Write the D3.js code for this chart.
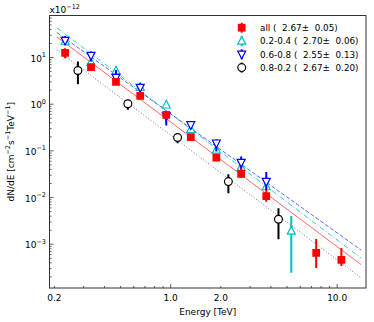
<!DOCTYPE html>
<html>
<head>
<meta charset="utf-8">
<script src="https://cdn.jsdelivr.net/npm/d3@7"></script>
<style>
  body { margin: 0; background: #fff; }
  text { font-family: "DejaVu Sans", sans-serif; fill: #000; }
</style>
</head>
<body>
<div id="chart"></div>
<script>
// data in units of 1e-12 cm^-2 s^-1 TeV^-1
var energyAll = [0.232, 0.332, 0.469, 0.656, 0.94, 1.32, 1.88, 2.65, 3.75, 7.48, 10.6];
var fluxAll = [12.6, 6.2, 3.0, 1.51, 0.59, 0.197, 0.0718, 0.0321, 0.0108, 6.5e-4, 4.6e-4];
var loAll = [9.7, 5.3, 2.6, 1.3, 0.5, 0.17, 0.06, 0.0261, 0.0081, 3.1e-4, 3.4e-4];
var hiAll = [15.9, 7.2, 3.5, 1.75, 0.69, 0.23, 0.085, 0.0422, 0.0145, 1.3e-3, 8.3e-4];

var energyCyan = [0.232, 0.332, 0.469, 0.656, 0.94, 1.32, 1.88, 2.65, 3.75, 5.3];
var fluxCyan = [22, 7.96, 5.19, 2.3, 0.97, 0.29, 0.105, 0.0448, 0.0172, 0.00193];
var loCyan = [19, 7.0, 4.5, 2.0, 0.84, 0.25, 0.09, 0.038, 0.0145, 2.45e-4];
var hiCyan = [25, 9.0, 6.0, 2.6, 1.1, 0.33, 0.12, 0.052, 0.02, 0.00405];

var energyBlue = [0.232, 0.332, 0.469, 0.656, 0.94, 1.32, 1.88, 2.65, 3.75];
var fluxBlue = [23.1, 11.0, 3.72, 2.27, 0.56, 0.36, 0.146, 0.056, 0.022];
var loBlue = [18.6, 8.2, 2.87, 1.87, 0.348, 0.29, 0.0966, 0.036, 0.0146];
var hiBlue = [29, 13.4, 5.4, 2.82, 0.686, 0.42, 0.178, 0.0755, 0.0355];

var energyBlack = [0.277, 0.553, 1.10, 2.22, 4.44];
var fluxBlack = [5.26, 1.02, 0.193, 0.022, 0.00344];
var loBlack = [2.69, 0.757, 0.146, 0.0124, 0.00128];
var hiBlack = [8.2, 1.24, 0.24, 0.0316, 0.0059];

// power-law fits: norm at 1 TeV, index
var fitNorms = [0.414, 0.618, 0.62, 0.216];
var fitIndex = [2.67, 2.70, 2.55, 2.67];
var fitRange = [0.207, 13.9];

var legendLabels = ["all (  2.67\u00b1  0.05)", "0.2-0.4 (  2.70\u00b1  0.06)",
  "0.6-0.8 (  2.55\u00b1  0.13)", "0.8-0.2 (  2.67\u00b1  0.20)"];
var xTickLabels = [0.2, 1.0, 2.0, 10.0];

var width = 374, height = 322;
var plotLeft = 49.5, plotRight = 366, plotTop = 15.5, plotBottom = 288;

var svg = d3.select("#chart").append("svg")
  .attr("width", width).attr("height", height);

var x = d3.scaleLog().domain([0.187, 14.9]).range([plotLeft, plotRight]);
var y = d3.scaleLog().domain([1.155e-4, 79.5]).range([plotBottom, plotTop]);

var series = [
  { e: energyAll, f: fluxAll, lo: loAll, hi: hiAll, color: "#ff0000", marker: "square", fill: "#ff0000" },
  { e: energyCyan, f: fluxCyan, lo: loCyan, hi: hiCyan, color: "#00bfbf", marker: "up", fill: "#fff" },
  { e: energyBlue, f: fluxBlue, lo: loBlue, hi: hiBlue, color: "#0000ff", marker: "down", fill: "#fff" },
  { e: energyBlack, f: fluxBlack, lo: loBlack, hi: hiBlack, color: "#000", marker: "circle", fill: "#fff" }
];
var fitColors = ["#ff4040", "#00bfbf", "#3a3aff", "#555"];
var fitDash = [null, "5,2,1,2", "4,2", "1,2"];

svg.append("defs").append("clipPath").attr("id", "clip")
  .append("rect").attr("x", plotLeft).attr("y", plotTop)
  .attr("width", plotRight - plotLeft).attr("height", plotBottom - plotTop);

var plot = svg.append("g").attr("clip-path", "url(#clip)");

// fit lines
var line = d3.line().x(function (d) { return x(d[0]); }).y(function (d) { return y(d[1]); });
for (var i = 0; i < fitNorms.length; i++) {
  var pts = fitRange.map(function (e) { return [e, fitNorms[i] * Math.pow(e, -fitIndex[i])]; });
  plot.append("path")
    .attr("d", line(pts))
    .attr("fill", "none")
    .attr("stroke", fitColors[i])
    .attr("stroke-width", 1)
    .attr("stroke-opacity", 0.8)
    .attr("stroke-dasharray", fitDash[i]);
}

function markerPath(type) {
  if (type === "square") return d3.symbol().type(d3.symbolSquare).size(60)();
  if (type === "circle") return d3.symbol().type(d3.symbolCircle).size(48)();
  if (type === "up") return "M0,-4.5L4,3.2L-4,3.2Z";
  return "M0,4.5L4,-3.2L-4,-3.2Z";
}

// error bars and markers, drawn in reverse so "all" is on top
[3, 1, 2, 0].forEach(function (k) {
  var s = series[k];
  var g = plot.append("g");
  g.selectAll("line.err").data(s.e).enter().append("line")
    .attr("x1", function (d) { return x(d); })
    .attr("x2", function (d) { return x(d); })
    .attr("y1", function (d, j) { return y(s.lo[j]); })
    .attr("y2", function (d, j) { return y(s.hi[j]); })
    .attr("stroke", s.color)
    .attr("stroke-width", 2);
  g.selectAll("path.mk").data(s.e).enter().append("path")
    .attr("d", markerPath(s.marker))
    .attr("transform", function (d, j) { return "translate(" + x(d) + "," + y(s.f[j]) + ")"; })
    .attr("fill", s.fill)
    .attr("stroke", s.color)
    .attr("stroke-width", s.marker === "square" ? 0 : 1.2);
});

// frame
svg.append("rect")
  .attr("x", plotLeft).attr("y", plotTop)
  .attr("width", plotRight - plotLeft).attr("height", plotBottom - plotTop)
  .attr("fill", "none").attr("stroke", "#333").attr("stroke-width", 1);

// y ticks (inward)
var yMajor = [-3, -2, -1, 0, 1];
for (var p = -4; p <= 1; p++) {
  for (var m = 1; m < 10; m++) {
    var v = m * Math.pow(10, p);
    if (v < y.domain()[0] || v > y.domain()[1]) continue;
    svg.append("line")
      .attr("x1", plotLeft).attr("x2", plotLeft + (m === 1 ? 4 : 2))
      .attr("y1", y(v)).attr("y2", y(v))
      .attr("stroke", "#333").attr("stroke-width", 0.8);
  }
}
yMajor.forEach(function (p) {
  var t = svg.append("text")
    .attr("x", 46).attr("y", y(Math.pow(10, p)) + 4)
    .attr("text-anchor", "end")
    .style("font-size", "9px");
  t.append("tspan").text("10");
  t.append("tspan").attr("dy", -4.5).style("font-size", "6.5px").text(p < 0 ? "\u2212" + (-p) : p);
});

// x ticks (inward)
for (var q = -1; q <= 1; q++) {
  for (var n = 1; n < 10; n++) {
    var xv = n * Math.pow(10, q);
    if (xv < x.domain()[0] || xv > x.domain()[1]) continue;
    svg.append("line")
      .attr("x1", x(xv)).attr("x2", x(xv))
      .attr("y1", plotBottom).attr("y2", plotBottom - (n === 1 ? 4 : 2))
      .attr("stroke", "#333").attr("stroke-width", 0.8);
  }
}
svg.selectAll("text.xt").data(xTickLabels).enter().append("text")
  .attr("x", function (d) { return x(d); })
  .attr("y", 300.5)
  .attr("text-anchor", "middle")
  .style("font-size", "9px")
  .text(function (d) { return d.toFixed(1); });

// axis labels
svg.append("text")
  .attr("x", (plotLeft + plotRight) / 2).attr("y", 314.5)
  .attr("text-anchor", "middle")
  .style("font-size", "9px")
  .text("Energy [TeV]");

var yl = svg.append("text")
  .attr("transform", "translate(14," + ((plotTop + plotBottom) / 2) + ") rotate(-90)")
  .attr("text-anchor", "middle")
  .style("font-size", "9px");
yl.append("tspan").text("dN/dE [cm");
yl.append("tspan").attr("dy", -4).style("font-size", "6.5px").text("\u22122");
yl.append("tspan").attr("dy", 4).text("s");
yl.append("tspan").attr("dy", -4).style("font-size", "6.5px").text("\u22121");
yl.append("tspan").attr("dy", 4).text("TeV");
yl.append("tspan").attr("dy", -4).style("font-size", "6.5px").text("\u22121");
yl.append("tspan").attr("dy", 4).text("]");

// offset text
var off = svg.append("text").attr("x", plotLeft).attr("y", 13).style("font-size", "9px");
off.append("tspan").text("x10");
off.append("tspan").attr("dy", -4).style("font-size", "6.5px").text("\u221212");

// legend
var legend = svg.append("g");
series.forEach(function (s, k) {
  var ly = 27.7 + k * 13.3;
  legend.append("line")
    .attr("x1", 241.7).attr("x2", 241.7)
    .attr("y1", ly - 5).attr("y2", ly + 5)
    .attr("stroke", s.color).attr("stroke-width", 2);
  legend.append("path")
    .attr("d", markerPath(s.marker))
    .attr("transform", "translate(241.7," + ly + ")")
    .attr("fill", s.fill)
    .attr("stroke", s.color)
    .attr("stroke-width", s.marker === "square" ? 0 : 1.2);
  legend.append("text")
    .attr("x", 260).attr("y", ly + 3.3)
    .attr("xml:space", "preserve")
    .style("white-space", "pre")
    .style("font-size", "8.8px")
    .text(legendLabels[k]);
});
</script>
</body>
</html>
